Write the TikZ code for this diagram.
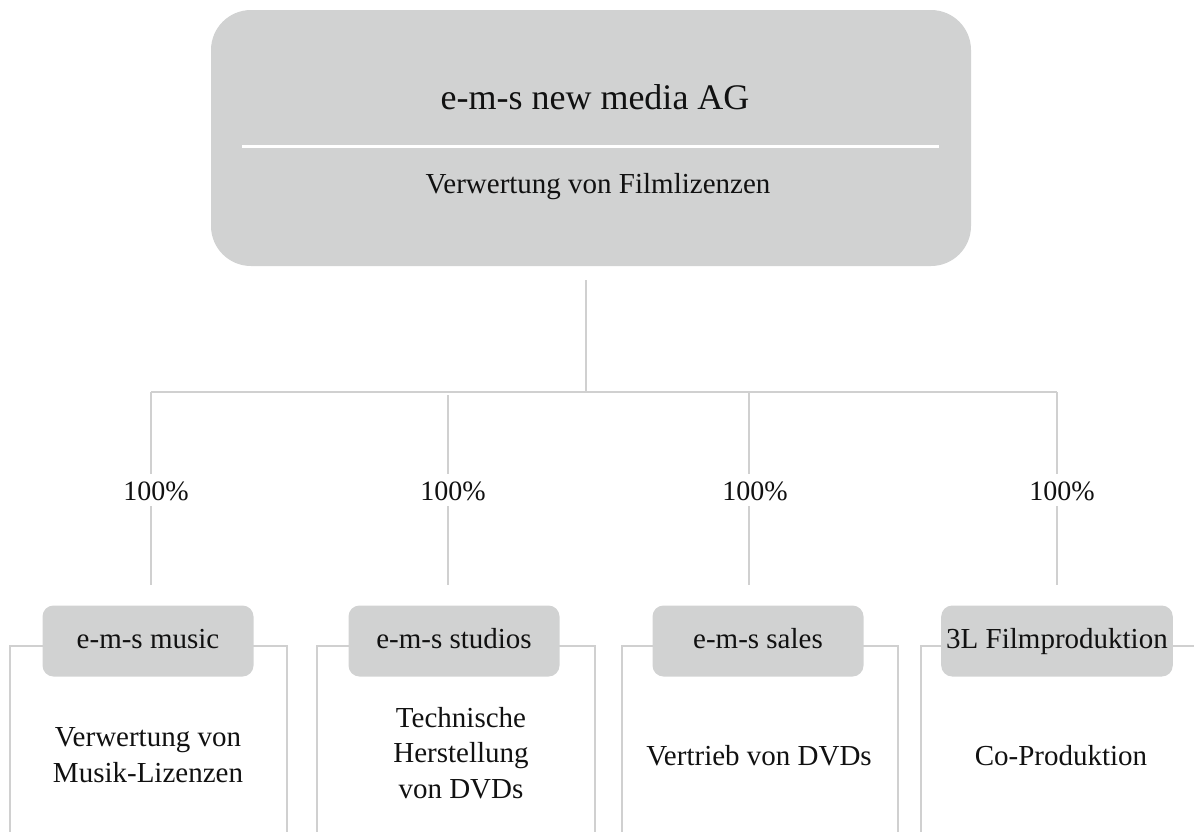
\documentclass[tikz,border=0pt]{standalone}
\usepackage{fontspec}
\setmainfont{Liberation Serif}
\definecolor{boxgray}{HTML}{D1D2D2}
\definecolor{linegray}{HTML}{D0D0D0}
\definecolor{txt}{HTML}{111111}
\begin{document}
\begin{tikzpicture}[x=1pt,y=-1pt,
  boxfill/.style={fill=boxgray, draw=none},
  conn/.style={draw=linegray, line width=2.2pt},
  framel/.style={draw=linegray, line width=2.5pt},
  subbox/.style={boxfill, rounded corners=11pt, minimum height=71pt, minimum width=211pt,
     inner xsep=5pt, inner ysep=0pt, text height=20pt, text depth=6pt,
     font=\fontsize{29}{35}\selectfont, text=txt, anchor=base},
  pct/.style={fill=white, inner xsep=2pt, inner ysep=6pt, text height=20pt, text depth=0pt,
     font=\fontsize{28}{34}\selectfont, text=txt, anchor=base},
  desc/.style={align=center, font=\fontsize{29}{35.5}\selectfont, text=txt, anchor=base}
]
\useasboundingbox (0,0) rectangle (1194,831);
\clip (0,0) rectangle (1194,831);

% top box
\node[boxfill, rounded corners=40pt, minimum width=760pt, minimum height=256pt, inner sep=0pt] (top) at (591,138) {};
\node[font=\fontsize{36}{42}\selectfont, text=txt, anchor=base] (title) at (595,109) {e-m-s new media AG};
\draw[white, line width=3pt] (242,146) -- (939,146);
\node[font=\fontsize{29}{35}\selectfont, text=txt, anchor=base] (subtitle) at (598,193) {Verwertung von Filmlizenzen};

% frames
\draw[framel] (10,840) -- (10,646) -- (287,646) -- (287,840);
\draw[framel] (317,840) -- (317,646) -- (595,646) -- (595,840);
\draw[framel] (622,840) -- (622,646) -- (898,646) -- (898,840);
\draw[framel] (921,840) -- (921,646) -- (1200,646);

% subsidiary boxes
\node[subbox] (c1) at (148,648) {e-m-s music};
\node[subbox] (c2) at (454,648) {e-m-s studios};
\node[subbox] (c3) at (758,648) {e-m-s sales};
\node[subbox] (c4) at (1057,648) {3L Filmproduktion};

% connectors
\coordinate (j0) at (586,280);
\coordinate (bus) at (586,392);
\coordinate (b1) at (151,392);
\coordinate (b2) at (448,392);
\coordinate (b3) at (749,392);
\coordinate (b4) at (1057,392);
\draw[conn] (j0) -- (bus);
\draw[conn] (b1) -- (b4);
\draw[conn, shorten >=20pt] (b1) -- (b1 |- c1.north);
\draw[conn, shorten >=20pt] ([yshift=-3pt]b2) -- (b2 |- c2.north);
\draw[conn, shorten >=20pt] (b3) -- (b3 |- c3.north);
\draw[conn, shorten >=20pt] (b4) -- (b4 |- c4.north);

% percentages
\node[pct] (p1) at (156,500) {100\%};
\node[pct] (p2) at (453,500) {100\%};
\node[pct] (p3) at (755,500) {100\%};
\node[pct] (p4) at (1062,500) {100\%};

% descriptions (anchor = baseline of last line)
\node[desc] (d1) at (148,782) {Verwertung von\\Musik-Lizenzen};
\node[desc] (d2) at (461,798) {Technische\\Herstellung\\von DVDs};
\node[desc] (d3) at (759,765) {Vertrieb von DVDs};
\node[desc] (d4) at (1061,765) {Co-Produktion};
\end{tikzpicture}
\end{document}
